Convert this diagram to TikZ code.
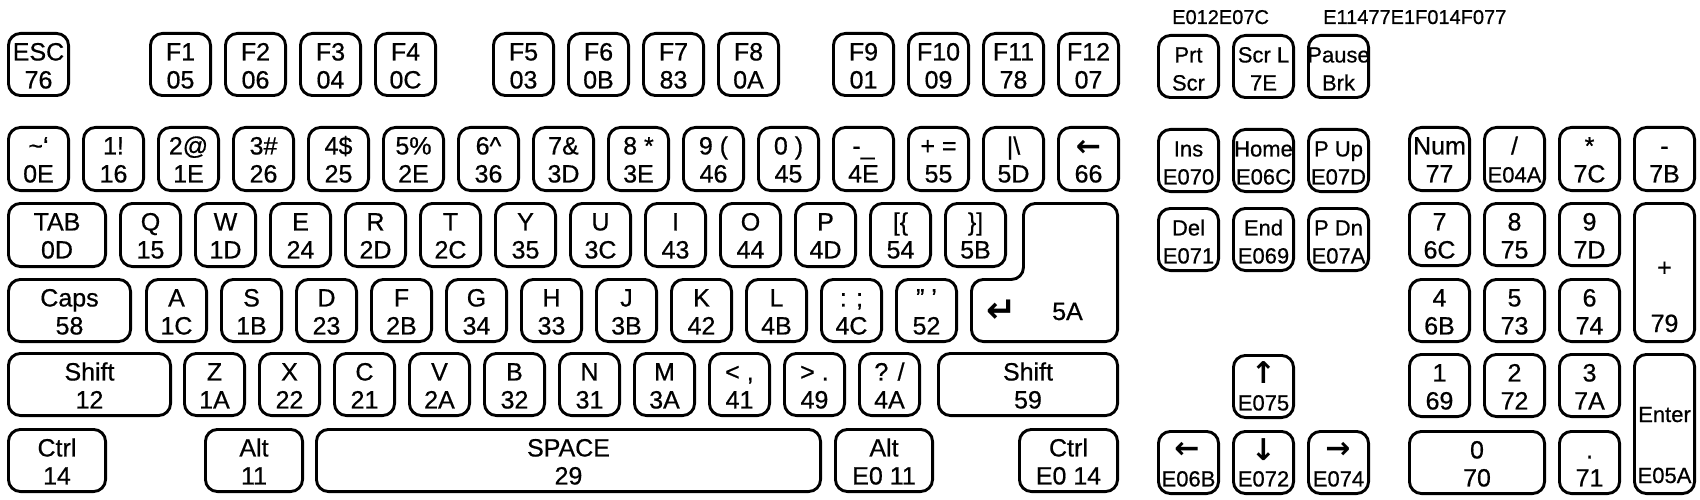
\documentclass[tikz,border=0pt]{standalone}
\usepackage{fontspec}
\setmainfont{Liberation Sans}[FakeBold=0.6]
\newfontfamily\symfont{DejaVu Sans}
\tikzset{
  keybox/.style={draw=black, line width=2.9pt, rounded corners=12pt, inner sep=0pt, outer sep=0pt, anchor=north west},
  keyline/.style={draw=black, line width=2.9pt, rounded corners=12pt},
  lab/.style={font=\fontsize{25}{25}\selectfont, inner sep=0pt, anchor=base},
  nlab/.style={font=\fontsize{22}{22}\selectfont, inner sep=0pt, anchor=base},
  toplab/.style={font=\fontsize{20}{20}\selectfont, inner sep=0pt, anchor=base west},
  arr/.style={font=\symfont\bfseries\fontsize{30}{30}\selectfont, inner sep=0pt, anchor=center},
}
% box only: name, x, y, w, h  (outer edges in px)
\newcommand\keyb[5]{\node[keybox, minimum width={(#4-2.9)*1pt}, minimum height={(#5-2.9)*1pt}] (#1) at ({#2+1.45},{#3+1.45}) {};}
% two labels: style, name, line1, line2
\newcommand\keyt[4]{%
  \node[#1] (#2-a) at ([yshift=-27pt]#2.north) {#3};
  \node[#1] (#2-b) at ([yshift=-55pt]#2.north) {#4};}
% full key: [style] name x y w h l1 l2
\newcommand\keyk[8][lab]{\keyb{#2}{#3}{#4}{#5}{#6}\keyt{#1}{#2}{#7}{#8}}
\begin{document}
\begin{tikzpicture}[x=1pt,y=-1pt]
\fill[white] (0,0) rectangle (1700,500);
\useasboundingbox (0,0) rectangle (1700,500);

% ---------- function row ----------
\keyk{esc}{7}{32}{63}{65}{ESC}{76}
\keyk{f1}{149}{32}{63}{65}{F1}{05}
\keyk{f2}{224}{32}{63}{65}{F2}{06}
\keyk{f3}{299}{32}{63}{65}{F3}{04}
\keyk{f4}{374}{32}{63}{65}{F4}{0C}
\keyk{f5}{492}{32}{63}{65}{F5}{03}
\keyk{f6}{567}{32}{63}{65}{F6}{0B}
\keyk{f7}{642}{32}{63}{65}{F7}{83}
\keyk{f8}{717}{32}{63}{65}{F8}{0A}
\keyk{f9}{832}{32}{63}{65}{F9}{01}
\keyk{f10}{907}{32}{63}{65}{F10}{09}
\keyk{f11}{982}{32}{63}{65}{F11}{78}
\keyk{f12}{1057}{32}{63}{65}{F12}{07}

% ---------- number row ----------
\keyk{grave}{7}{126}{63}{66}{\symbol{"7E}\symbol{"60}}{0E}
\keyk{n1}{82}{126}{63}{66}{1!}{16}
\keyk{n2}{157}{126}{63}{66}{2@}{1E}
\keyk{n3}{232}{126}{63}{66}{3\#}{26}
\keyk{n4}{307}{126}{63}{66}{4\$}{25}
\keyk{n5}{382}{126}{63}{66}{5\%}{2E}
\keyk{n6}{457}{126}{63}{66}{6\symbol{"5E}}{36}
\keyk{n7}{532}{126}{63}{66}{7\&}{3D}
\keyk{n8}{607}{126}{63}{66}{8 *}{3E}
\keyk{n9}{682}{126}{63}{66}{9 (}{46}
\keyk{n0}{757}{126}{63}{66}{0 )}{45}
\keyk{minus}{832}{126}{63}{66}{-\_}{4E}
\keyk{equal}{907}{126}{63}{66}{+ =}{55}
\keyk{bslash}{982}{126}{63}{66}{|\symbol{"5C}}{5D}
\keyb{bksp}{1057}{126}{63}{66}
\node[arr] (bksp-a) at (1088.5,148.5) {←};
\node[lab] (bksp-b) at ([yshift=-55pt]bksp.north) {66};

% ---------- tab row ----------
\keyk{tab}{7}{202}{100}{66}{TAB}{0D}
\keyk{q}{119}{202}{63}{66}{Q}{15}
\keyk{w}{194}{202}{63}{66}{W}{1D}
\keyk{e}{269}{202}{63}{66}{E}{24}
\keyk{r}{344}{202}{63}{66}{R}{2D}
\keyk{t}{419}{202}{63}{66}{T}{2C}
\keyk{y}{494}{202}{63}{66}{Y}{35}
\keyk{u}{569}{202}{63}{66}{U}{3C}
\keyk{i}{644}{202}{63}{66}{I}{43}
\keyk{o}{719}{202}{63}{66}{O}{44}
\keyk{p}{794}{202}{63}{66}{P}{4D}
\keyk{lbr}{869}{202}{63}{66}{[\symbol{"7B}}{54}
\keyk{rbr}{944}{202}{63}{66}{\symbol{"7D}]}{5B}

% enter (L-shaped)
\draw[keyline] (1070,203.45) -- (1117.55,203.45) -- (1117.55,341.55) -- (971.45,341.55)
  -- (971.45,279.45) -- (1023.45,279.45) -- (1023.45,203.45) -- cycle;
\node[arr, font=\symfont\bfseries\fontsize{36}{36}\selectfont] (enter-a) at (1002,311) {↵};
\node[lab] (enter-b) at (1067.5,320) {5A};

% ---------- caps row ----------
\keyk{caps}{7}{278}{125}{65}{Caps}{58}
\keyk{a}{145}{278}{63}{65}{A}{1C}
\keyk{s}{220}{278}{63}{65}{S}{1B}
\keyk{d}{295}{278}{63}{65}{D}{23}
\keyk{f}{370}{278}{63}{65}{F}{2B}
\keyk{g}{445}{278}{63}{65}{G}{34}
\keyk{h}{520}{278}{63}{65}{H}{33}
\keyk{j}{595}{278}{63}{65}{J}{3B}
\keyk{k}{670}{278}{63}{65}{K}{42}
\keyk{l}{745}{278}{63}{65}{L}{4B}
\keyk{semi}{820}{278}{63}{65}{: ;}{4C}
\keyk{quote}{895}{278}{63}{65}{\symbol{"22} \symbol{"27}}{52}

% ---------- shift row ----------
\keyk{lshift}{7}{352}{165}{65}{Shift}{12}
\keyk{z}{183}{352}{63}{65}{Z}{1A}
\keyk{x}{258}{352}{63}{65}{X}{22}
\keyk{c}{333}{352}{63}{65}{C}{21}
\keyk{v}{408}{352}{63}{65}{V}{2A}
\keyk{b}{483}{352}{63}{65}{B}{32}
\keyk{n}{558}{352}{63}{65}{N}{31}
\keyk{m}{633}{352}{63}{65}{M}{3A}
\keyk{comma}{708}{352}{63}{65}{< ,}{41}
\keyk{period}{783}{352}{63}{65}{> .}{49}
\keyk{slash}{858}{352}{63}{65}{? /}{4A}
\keyk{rshift}{937}{352}{182}{65}{Shift}{59}

% ---------- bottom row ----------
\keyk{lctrl}{7}{428}{100}{65}{Ctrl}{14}
\keyk{lalt}{204}{428}{100}{65}{Alt}{11}
\keyk{space}{315}{428}{507}{65}{SPACE}{29}
\keyk{ralt}{834}{428}{100}{65}{Alt}{E0 11}
\keyk{rctrl}{1018}{428}{101}{65}{Ctrl}{E0 14}

% ---------- editing cluster ----------
\node[toplab] (prtcode) at (1172,24) {E012E07C};
\node[toplab] (pausecode) at (1323,24) {E11477E1F014F077};
\keyk[nlab]{prt}{1157}{34}{63}{65}{Prt}{Scr}
\keyk[nlab]{scrl}{1232}{34}{63}{65}{Scr L}{7E}
\keyk[nlab]{pause}{1307}{34}{63}{65}{Pause}{Brk}
\keyk[nlab]{ins}{1157}{128}{63}{65}{Ins}{E070}
\keyk[nlab]{home}{1232}{128}{63}{65}{Home}{E06C}
\keyk[nlab]{pgup}{1307}{128}{63}{65}{P Up}{E07D}
\keyk[nlab]{del}{1157}{207}{63}{65}{Del}{E071}
\keyk[nlab]{end}{1232}{207}{63}{65}{End}{E069}
\keyk[nlab]{pgdn}{1307}{207}{63}{65}{P Dn}{E07A}

\keyb{up}{1232}{354}{63}{65}
\node[arr] (up-a) at (1263.5,373) {↑};
\node[nlab] (up-b) at ([yshift=-55pt]up.north) {E075};
\keyb{left}{1157}{430}{63}{65}
\node[arr] (left-a) at (1187,450) {←};
\node[nlab] (left-b) at ([yshift=-55pt]left.north) {E06B};
\keyb{down}{1232}{430}{63}{65}
\node[arr] (down-a) at (1263.5,450) {↓};
\node[nlab] (down-b) at ([yshift=-55pt]down.north) {E072};
\keyb{right}{1307}{430}{63}{65}
\node[arr] (right-a) at (1338,450) {→};
\node[nlab] (right-b) at ([yshift=-55pt]right.north) {E074};

% ---------- numeric keypad ----------
\keyk{num}{1408}{126}{63}{66}{Num}{77}
\keyb{kpdiv}{1483}{126}{63}{66}
\node[lab] (kpdiv-a) at ([yshift=-27pt]kpdiv.north) {/};
\node[nlab] (kpdiv-b) at ([yshift=-55pt]kpdiv.north) {E04A};
\keyk{kpmul}{1558}{126}{63}{66}{*}{7C}
\keyk{kpminus}{1633}{126}{63}{66}{-}{7B}
\keyk{kp7}{1408}{202}{63}{65}{7}{6C}
\keyk{kp8}{1483}{202}{63}{65}{8}{75}
\keyk{kp9}{1558}{202}{63}{65}{9}{7D}
\keyb{kpplus}{1633}{202}{63}{141}
\node[lab] (kpplus-a) at (1664.5,276) {+};
\node[lab] (kpplus-b) at (1664.5,332) {79};
\keyk{kp4}{1408}{278}{63}{65}{4}{6B}
\keyk{kp5}{1483}{278}{63}{65}{5}{73}
\keyk{kp6}{1558}{278}{63}{65}{6}{74}
\keyk{kp1}{1408}{353}{63}{65}{1}{69}
\keyk{kp2}{1483}{353}{63}{65}{2}{72}
\keyk{kp3}{1558}{353}{63}{65}{3}{7A}
\keyb{kpenter}{1633}{353}{63}{142}
\node[nlab] (kpenter-a) at (1664.5,422) {Enter};
\node[nlab] (kpenter-b) at (1664.5,483) {E05A};
\keyk{kp0}{1408}{430}{138}{65}{0}{70}
\keyk{kpdot}{1558}{430}{63}{65}{.}{71}
\end{tikzpicture}
\end{document}
